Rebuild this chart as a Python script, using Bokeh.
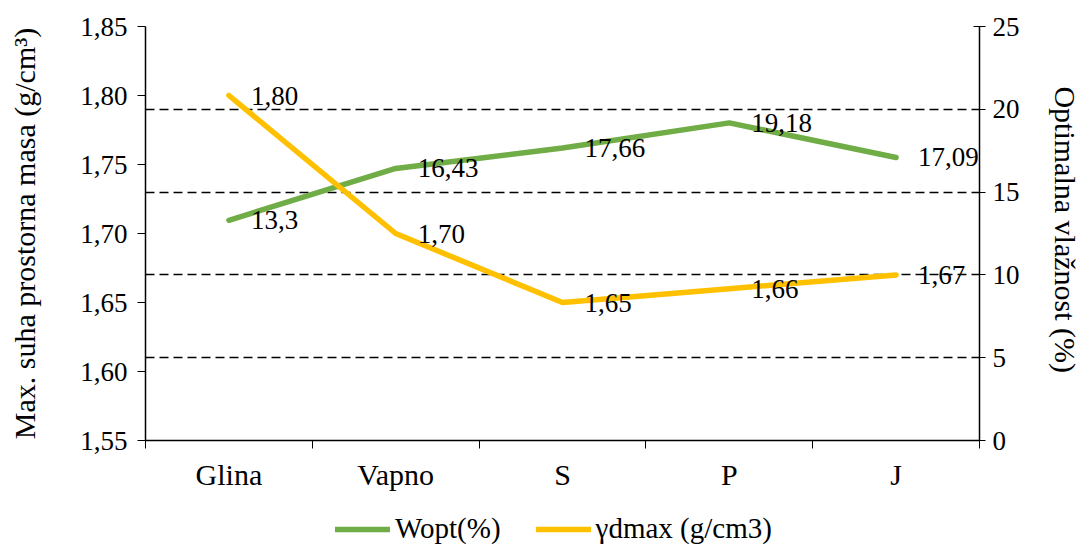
from bokeh.plotting import figure
from bokeh.layouts import column
from bokeh.models import (Range1d, LinearAxis, FixedTicker, Grid, ColumnDataSource,
                          LabelSet, Legend, LegendItem, CustomJSTickFormatter)
from bokeh.embed import file_html
from bokeh.resources import INLINE

# ---- data ----
categories = ["Glina", "Vapno", "S", "P", "J"]
wopt = [13.3, 16.43, 17.66, 19.18, 17.09]
ydmax = [1.80, 1.70, 1.65, 1.66, 1.67]
left_ticks = [1.55, 1.60, 1.65, 1.70, 1.75, 1.80, 1.85]
right_ticks = [0, 5, 10, 15, 20, 25]
series_names = ["Wopt(%)", "γdmax (g/cm3)"]
series_colors = ["#70AD47", "#FFC000"]

FONT = "Liberation Serif"
FS = "27px"
FS_X = "30px"
FS_TITLE = "30px"
FS_LEG = "29px"

xpos = [i + 0.5 for i in range(len(categories))]
src = ColumnDataSource(dict(
    x=xpos,
    wopt=wopt,
    ydmax=ydmax,
    wlab=[str(v).replace(".", ",") for v in wopt],
    ylab=[f"{v:.2f}".replace(".", ",") for v in ydmax],
))

W = 1088
H1 = 494
p = figure(width=W, height=H1, output_backend="svg", toolbar_location=None,
           x_range=Range1d(0, len(categories)), y_range=Range1d(1.55, 1.85),
           min_border_left=145, min_border_top=26, min_border_right=109,
           min_border_bottom=54)
p.outline_line_color = None
p.xgrid.visible = False
p.ygrid.visible = False
p.extra_y_ranges = {"w": Range1d(0, 25)}

# x axis
xa = p.xaxis[0]
xa.ticker = FixedTicker(ticks=xpos, minor_ticks=list(range(len(categories) + 1)))
xa.major_label_overrides = {xp: c for xp, c in zip(xpos, categories)}
xa.major_tick_line_color = None
xa.major_tick_out = 8
xa.minor_tick_line_color = "black"
xa.minor_tick_out = 8
xa.minor_tick_in = 0
xa.axis_line_color = "black"
xa.axis_line_width = 1.5
xa.major_label_text_font = FONT
xa.major_label_text_font_size = FS_X
xa.major_label_text_color = "black"
xa.major_label_standoff = 9

# left axis
ya = p.yaxis[0]
ya.ticker = FixedTicker(ticks=left_ticks)
ya.formatter = CustomJSTickFormatter(code="return tick.toFixed(2).replace('.', ',');")
ya.major_tick_out = 8
ya.major_tick_in = 0
ya.minor_tick_line_color = None
ya.axis_line_width = 1.5
ya.axis_label = "Max. suha prostorna masa (g/cm³)"
ya.axis_label_text_font = FONT
ya.axis_label_text_font_size = FS_TITLE
ya.axis_label_text_font_style = "normal"
ya.axis_label_text_color = "black"
ya.axis_label_standoff = 36
ya.major_label_text_font = FONT
ya.major_label_text_font_size = FS
ya.major_label_text_color = "black"
ya.major_label_standoff = 10

# right axis
ra = LinearAxis(y_range_name="w", ticker=FixedTicker(ticks=right_ticks))
ra.major_tick_out = 6
ra.major_tick_in = 6
ra.minor_tick_line_color = None
ra.axis_line_width = 1.5
ra.axis_label = "Optimalna  vlažnost (%)"
ra.axis_label_text_font = FONT
ra.axis_label_text_font_size = FS_TITLE
ra.axis_label_text_font_style = "normal"
ra.axis_label_text_color = "black"
ra.axis_label_standoff = 26
ra.major_label_text_font = FONT
ra.major_label_text_font_size = FS
ra.major_label_text_color = "black"
ra.major_label_standoff = 7
p.add_layout(ra, "right")

# dashed grid on right axis values
grid = Grid(dimension=1, ticker=FixedTicker(ticks=right_ticks[1:]), y_range_name="w",
            grid_line_color="black", grid_line_dash="9 5", grid_line_width=1.3)
p.add_layout(grid)

# lines
g = p.line("x", "wopt", source=src, y_range_name="w", line_color=series_colors[0],
           line_width=5.5, line_cap="round", line_join="round")
yl = p.line("x", "ydmax", source=src, line_color=series_colors[1],
            line_width=5.5, line_cap="round", line_join="round")

# data labels
for col, yname, rng in (("wlab", "wopt", "w"), ("ylab", "ydmax", "default")):
    ls = LabelSet(x="x", y=yname, text=col, source=src, y_range_name=rng,
                  x_offset=22, y_offset=0, text_baseline="middle", text_align="left",
                  text_font=FONT, text_font_size=FS, text_color="black")
    p.add_layout(ls)

# legend strip (separate figure; its own copies of the lines lie outside its view)
p2 = figure(width=W, height=549 - H1, output_backend="svg", toolbar_location=None,
            x_range=Range1d(-20, -19), y_range=Range1d(-20, -19),
            x_axis_type=None, y_axis_type=None, min_border=0)
p2.outline_line_color = None
lg1 = p2.line("x", "wopt", source=src, line_color=series_colors[0],
              line_width=5.5, line_cap="round")
lg2 = p2.line("x", "ydmax", source=src, line_color=series_colors[1],
              line_width=5.5, line_cap="round")
legend = Legend(items=[LegendItem(label=series_names[0], renderers=[lg1]),
                       LegendItem(label=series_names[1], renderers=[lg2])],
                orientation="horizontal", location=(190, 4),
                border_line_color=None, background_fill_alpha=0,
                label_text_font=FONT, label_text_font_size=FS_LEG,
                label_text_color="black",
                glyph_width=55, glyph_height=20, spacing=35, label_standoff=5,
                padding=0, margin=0)
p2.add_layout(legend)

open("out.html", "w").write(file_html(column(p, p2, spacing=0), INLINE))
